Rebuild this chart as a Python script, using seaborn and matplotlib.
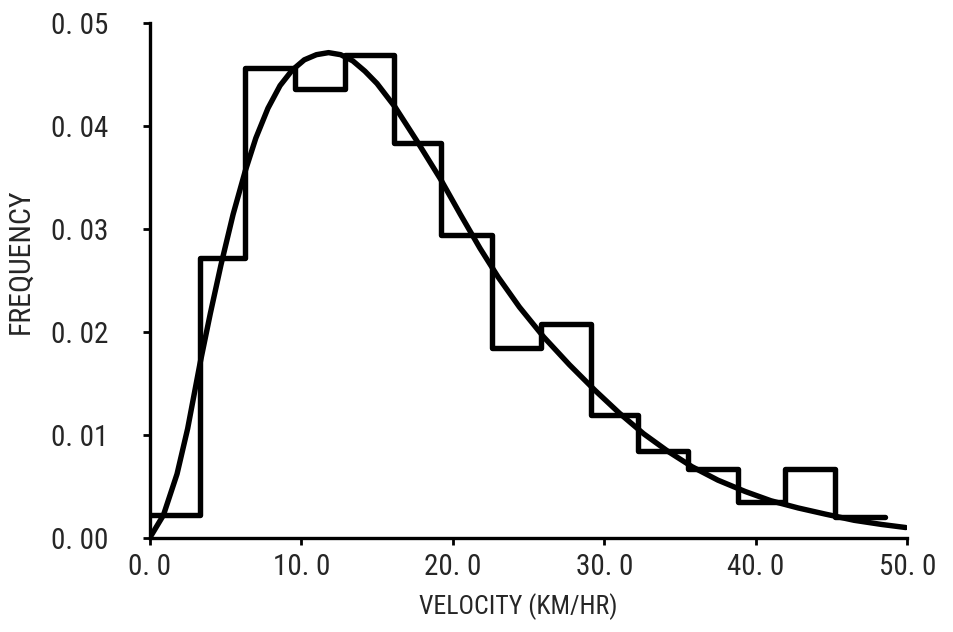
import numpy as np
import matplotlib
matplotlib.use("Agg")
import matplotlib.pyplot as plt
from matplotlib import font_manager
import seaborn as sns

bin_edges = [0.0, 3.3, 6.3, 9.6, 12.9, 16.1, 19.2, 22.6, 25.8, 29.1,
             32.2, 35.5, 38.8, 41.9, 45.2, 48.5]
bin_freq = [0.0022, 0.0272, 0.0456, 0.0436, 0.0469, 0.0383, 0.0294, 0.0184,
            0.0208, 0.0119, 0.0084, 0.0067, 0.0035, 0.0067, 0.0020]

# fitted curve, points
curve_x = [0.0, 0.9, 1.8, 2.5, 3.3, 4.0, 4.7, 5.5, 6.3, 7.0, 7.8, 8.6,
           9.4, 10.2, 11.0, 11.8, 12.6, 13.4, 14.2, 15.0, 16.2, 17.6,
           19.2, 20.5, 21.8, 23.0, 24.4, 26.0, 27.7, 29.4, 31.0, 32.6,
           34.2, 35.8, 37.5, 39.3, 41.0, 42.8, 44.6, 46.5, 48.3, 49.9]
curve_y = [0.0000, 0.0022, 0.0062, 0.0106, 0.0168, 0.0218, 0.0265, 0.0314,
           0.0356, 0.0388, 0.0417, 0.0439, 0.0454, 0.0464, 0.0469, 0.0471,
           0.0469, 0.0463, 0.0453, 0.0441, 0.0418, 0.0386, 0.0348, 0.0314,
           0.0281, 0.0253, 0.0224, 0.0195, 0.0168, 0.0143, 0.0121, 0.0101,
           0.0084, 0.0069, 0.0056, 0.0045, 0.0036, 0.0029, 0.0023, 0.0017,
           0.0013, 0.0010]

x_ticks = [0, 10, 20, 30, 40, 50]
x_tick_labels = ["0. 0", "10. 0", "20. 0", "30. 0", "40. 0", "50. 0"]
y_ticks = [0.00, 0.01, 0.02, 0.03, 0.04, 0.05]
y_tick_labels = ["0. 00", "0. 01", "0. 02", "0. 03", "0. 04", "0. 05"]

sns.set_style("ticks")

# pick a narrow sans if one is installed
fonts = font_manager.fontManager.ttflist
names = {f.name for f in fonts}
family = "DejaVu Sans"
stretch = "normal"
tick_size, xlab_size, ylab_size = 18, 16, 18
for cand in ["Roboto Condensed", "Liberation Sans Narrow", "Open Sans Condensed"]:
    if cand in names:
        family, tick_size, xlab_size, ylab_size = cand, 21, 18.5, 21.5
        break
else:
    if any(f.name == "DejaVu Sans" and f.stretch in ("condensed", "semi-condensed")
           for f in fonts):
        stretch, tick_size, xlab_size, ylab_size = "condensed", 20, 18, 20
plt.rcParams["font.family"] = [family, "DejaVu Sans"]
plt.rcParams["font.stretch"] = stretch

fig = plt.figure(figsize=(9.54, 6.32), dpi=100)
ax = fig.add_axes([0.157, 0.149, 0.794, 0.815])

edges = np.array(bin_edges)
centers = (edges[:-1] + edges[1:]) / 2
sns.histplot(x=centers, weights=bin_freq, bins=bin_edges, element="step",
             fill=False, color="black", linewidth=3.9, ax=ax)
sns.lineplot(x=curve_x, y=curve_y, color="black", linewidth=3.9, ax=ax)

ax.set_xlim(0, 50)
ax.set_ylim(0, 0.05)
ax.set_xticks(x_ticks)
ax.set_xticklabels(x_tick_labels, fontsize=tick_size)
ax.set_yticks(y_ticks)
ax.set_yticklabels(y_tick_labels, fontsize=tick_size)
ax.tick_params(axis="y", length=5, width=2, pad=25, color="black")
ax.tick_params(axis="x", length=5, width=2, pad=6, color="black")

sns.despine(ax=ax)
for s in ["left", "bottom"]:
    ax.spines[s].set_linewidth(2.4)
    ax.spines[s].set_color("black")

ax.set_xlabel("VELOCITY (KM/HR)", fontsize=xlab_size)
ax.set_ylabel("FREQUENCY", fontsize=ylab_size)
ax.xaxis.set_label_coords(0.486, -0.108)
ax.yaxis.set_label_coords(-0.152, 0.536)

fig.savefig("out.png", dpi=100)
